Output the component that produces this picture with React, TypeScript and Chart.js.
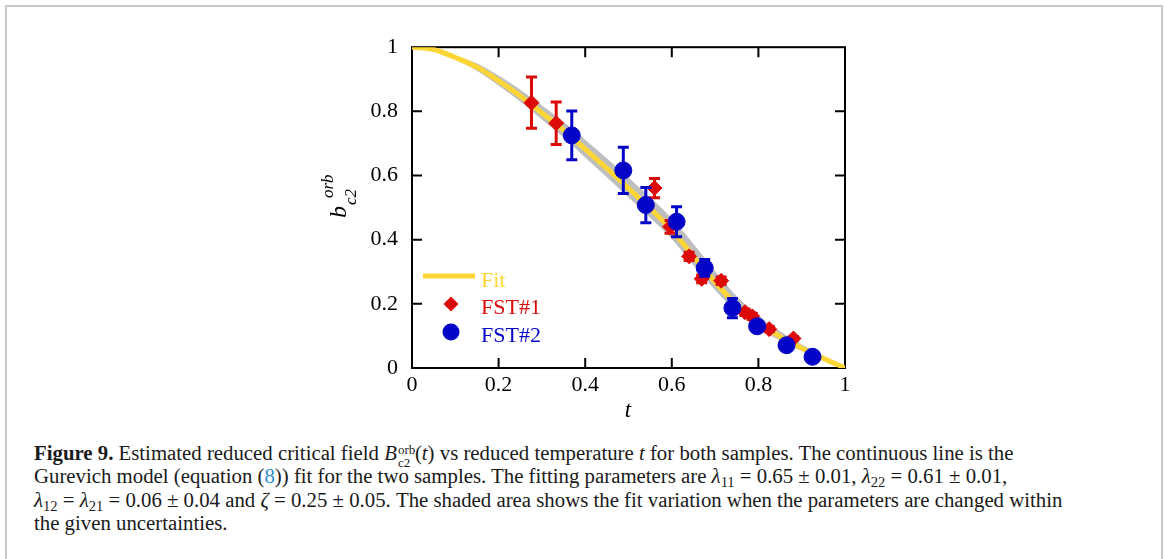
import React, { useEffect, useRef } from "react";
import { Chart, registerables } from "chart.js";

Chart.register(...registerables);

// Fit curve
const tFit = [0, 0.05, 0.1, 0.15, 0.2, 0.25, 0.3, 0.35, 0.4, 0.45, 0.5, 0.55, 0.6, 0.65, 0.7, 0.75, 0.8, 0.85, 0.9, 0.95, 1.0];
const bFit = [1.0, 0.993, 0.968, 0.938, 0.895, 0.848, 0.795, 0.742, 0.682, 0.622, 0.56, 0.497, 0.43, 0.348, 0.268, 0.195, 0.14, 0.098, 0.062, 0.03, 0.0];

// Shaded band (fit variation)
const tBand = [0.1, 0.15, 0.2, 0.25, 0.3, 0.35, 0.4, 0.45, 0.5, 0.55, 0.6, 0.65, 0.7, 0.75, 0.8, 0.85, 0.9, 0.95];
const bandUpper = [0.972, 0.948, 0.91, 0.866, 0.817, 0.766, 0.71, 0.652, 0.592, 0.53, 0.465, 0.385, 0.3, 0.222, 0.162, 0.113, 0.072, 0.035];
const bandLower = [0.964, 0.928, 0.882, 0.832, 0.776, 0.72, 0.658, 0.596, 0.533, 0.47, 0.404, 0.322, 0.245, 0.176, 0.124, 0.087, 0.054, 0.025];

// FST#1 (red diamonds)
const t1 = [0.276, 0.333, 0.56, 0.596, 0.64, 0.669, 0.714, 0.769, 0.786, 0.825, 0.881];
const b1 = [0.827, 0.763, 0.561, 0.44, 0.348, 0.278, 0.272, 0.174, 0.161, 0.121, 0.092];
const e1 = [0.08, 0.066, 0.03, 0.02, 0.013, 0.012, 0.012, 0.01, 0.01, 0.008, 0.006];

// FST#2 (blue circles)
const t2 = [0.369, 0.488, 0.54, 0.611, 0.676, 0.74, 0.797, 0.865, 0.925];
const b2 = [0.725, 0.616, 0.508, 0.456, 0.312, 0.187, 0.13, 0.071, 0.035];
const e2 = [0.076, 0.072, 0.055, 0.047, 0.026, 0.03, 0.01, 0.008, 0.005];

const tickValues = [0.2, 0.4, 0.6, 0.8];
const legendLabels = ["Fit", "FST#1", "FST#2"];

const YELLOW = "#FDD535";
const RED = "#DD0A0A";
const BLUE = "#0505C8";
const GRAY = "#BEBEBE";
const SERIF = "'Liberation Serif', 'DejaVu Serif', serif";

const CANVAS_LEFT = 300;
const CANVAS_TOP = 28;

const framePlugin = {
  id: "frame",
  beforeDatasetsDraw(chart: any) {
    const { ctx, chartArea } = chart;
    const { left, top, right, bottom } = chartArea;
    const xs = chart.scales.x;
    const ys = chart.scales.y;
    ctx.save();
    ctx.strokeStyle = "#000";
    ctx.lineWidth = 2;
    ctx.strokeRect(left, top, right - left, bottom - top);
    ctx.beginPath();
    tickValues.forEach((v) => {
      const x = xs.getPixelForValue(v);
      ctx.moveTo(x, bottom);
      ctx.lineTo(x, bottom - 10);
      ctx.moveTo(x, top);
      ctx.lineTo(x, top + 10);
      const y = ys.getPixelForValue(v);
      ctx.moveTo(left, y);
      ctx.lineTo(left + 10, y);
      ctx.moveTo(right, y);
      ctx.lineTo(right - 10, y);
    });
    ctx.stroke();
    ctx.restore();
  },
};

const errorBarPlugin = {
  id: "errbars",
  afterDatasetDraw(chart: any, args: any) {
    const ds = chart.data.datasets[args.index];
    if (!ds.errors) return;
    const { ctx } = chart;
    const xs = chart.scales.x;
    const ys = chart.scales.y;
    ctx.save();
    ctx.strokeStyle = ds.backgroundColor;
    ctx.lineWidth = 3;
    ctx.beginPath();
    ds.data.forEach((p: any, i: number) => {
      const e = ds.errors[i];
      const x = xs.getPixelForValue(p.x);
      const yTop = ys.getPixelForValue(p.y + e);
      const yBot = ys.getPixelForValue(p.y - e);
      ctx.moveTo(x, yTop);
      ctx.lineTo(x, yBot);
      ctx.moveTo(x - 5.5, yTop);
      ctx.lineTo(x + 5.5, yTop);
      ctx.moveTo(x - 5.5, yBot);
      ctx.lineTo(x + 5.5, yBot);
    });
    ctx.stroke();
    ctx.restore();
  },
};

const labelPlugin = {
  id: "labels",
  afterDraw(chart: any) {
    const { ctx } = chart;
    const ox = CANVAS_LEFT;
    const oy = CANVAS_TOP;
    ctx.save();
    // legend
    ctx.strokeStyle = YELLOW;
    ctx.lineWidth = 5;
    ctx.beginPath();
    ctx.moveTo(423 - ox, 276 - oy);
    ctx.lineTo(475 - ox, 276 - oy);
    ctx.stroke();
    // diamond
    ctx.fillStyle = RED;
    const dx = 451 - ox, dy = 304 - oy, r = 7.5;
    ctx.beginPath();
    ctx.moveTo(dx, dy - r);
    ctx.lineTo(dx + r, dy);
    ctx.lineTo(dx, dy + r);
    ctx.lineTo(dx - r, dy);
    ctx.closePath();
    ctx.fill();
    // circle
    ctx.fillStyle = BLUE;
    ctx.beginPath();
    ctx.arc(451 - ox, 332 - oy, 8.5, 0, Math.PI * 2);
    ctx.fill();
    ctx.font = `22px ${SERIF}`;
    ctx.textBaseline = "alphabetic";
    ctx.textAlign = "left";
    const colors = [YELLOW, RED, BLUE];
    const baselines = [287, 314, 342];
    legendLabels.forEach((l, i) => {
      ctx.fillStyle = colors[i];
      ctx.fillText(l, 481 - ox, baselines[i] - oy);
    });
    // x title
    ctx.fillStyle = "#000";
    ctx.font = `italic 23px ${SERIF}`;
    ctx.textAlign = "center";
    ctx.fillText("t", 628 - ox, 417 - oy);
    // y title (rotated)
    ctx.translate(346 - ox, 207 - oy);
    ctx.rotate(-Math.PI / 2);
    ctx.textAlign = "left";
    ctx.font = `italic 24px ${SERIF}`;
    ctx.fillText("b", -11, 0);
    ctx.font = `italic 17px ${SERIF}`;
    ctx.fillText("orb", 9, -13);
    ctx.fillText("c2", 2, 10);
    ctx.restore();
  },
};

function ChartBox() {
  const ref = useRef<HTMLCanvasElement | null>(null);
  useEffect(() => {
    if (!ref.current) return;
    const chart = new Chart(ref.current, {
      type: "scatter",
      data: {
        datasets: [
          {
            type: "line",
            label: "bandU",
            data: tBand.map((t, i) => ({ x: t, y: bandUpper[i] })),
            borderColor: GRAY,
            borderWidth: 1,
            backgroundColor: GRAY,
            pointRadius: 0,
            fill: "+1",
            cubicInterpolationMode: "monotone",
            order: 5,
          } as any,
          {
            type: "line",
            label: "bandL",
            data: tBand.map((t, i) => ({ x: t, y: bandLower[i] })),
            borderColor: GRAY,
            borderWidth: 1,
            backgroundColor: GRAY,
            pointRadius: 0,
            fill: false,
            cubicInterpolationMode: "monotone",
            order: 4,
          } as any,
          {
            type: "line",
            label: "Fit",
            data: tFit.map((t, i) => ({ x: t, y: bFit[i] })),
            borderColor: YELLOW,
            borderWidth: 5,
            pointRadius: 0,
            fill: false,
            cubicInterpolationMode: "monotone",
            order: 3,
          } as any,
          {
            label: "FST#1",
            data: t1.map((t, i) => ({ x: t, y: b1[i] })),
            errors: e1,
            backgroundColor: RED,
            borderColor: RED,
            borderWidth: 1,
            pointStyle: "rectRot",
            pointRadius: 7.5,
            order: 2,
          } as any,
          {
            label: "FST#2",
            data: t2.map((t, i) => ({ x: t, y: b2[i] })),
            errors: e2,
            backgroundColor: BLUE,
            borderColor: BLUE,
            borderWidth: 1,
            pointStyle: "circle",
            pointRadius: 8.5,
            order: 1,
          } as any,
        ],
      },
      options: {
        animation: false,
        responsive: false,
        layout: { padding: { left: 0, right: 55, top: 6, bottom: 0 } },
        plugins: { legend: { display: false }, tooltip: { enabled: false } },
        scales: {
          x: {
            type: "linear",
            min: 0,
            max: 1,
            grid: { display: false },
            border: { display: false },
            ticks: {
              stepSize: 0.2,
              color: "#000",
              font: { family: SERIF, size: 22 },
              padding: -4,
              callback: (v: any) => String(Math.round(Number(v) * 10) / 10),
            },
            afterFit: (s: any) => {
              s.height = 60;
            },
          },
          y: {
            type: "linear",
            min: 0,
            max: 1,
            grid: { display: false },
            border: { display: false },
            ticks: {
              stepSize: 0.2,
              color: "#000",
              font: { family: SERIF, size: 22 },
              padding: 6,
              callback: (v: any) => String(Math.round(Number(v) * 10) / 10),
            },
            afterFit: (s: any) => {
              s.width = 112;
            },
          },
        },
      },
      plugins: [framePlugin, errorBarPlugin, labelPlugin],
    } as any);
    return () => chart.destroy();
  }, []);
  return (
    <canvas
      ref={ref}
      width={600}
      height={400}
      style={{ position: "absolute", left: CANVAS_LEFT, top: CANVAS_TOP, width: 600, height: 400 }}
    />
  );
}

const sub: React.CSSProperties = { fontSize: "0.7em", verticalAlign: "-0.25em", lineHeight: 0 };

export default function App() {
  return (
    <div style={{ position: "fixed", inset: 0, overflow: "hidden", background: "#fff" }}>
      <div
        style={{
          position: "absolute",
          left: 5,
          top: 5,
          width: 1158,
          height: 620,
          boxSizing: "border-box",
          border: "2px solid #c8c8c8",
        }}
      />
      <ChartBox />
      <div
        style={{
          position: "absolute",
          left: 34,
          top: 441,
          fontFamily: SERIF,
          fontSize: 20.8,
          lineHeight: "23.3px",
          color: "#1a1a1a",
          whiteSpace: "nowrap",
        }}
      >
        <div>
          <b>Figure 9.</b> Estimated reduced critical field <i>B</i>
          <span style={{ position: "relative", display: "inline-block", width: 18, height: 0 }}>
            <span style={{ position: "absolute", left: 1, top: -17, fontSize: 13, lineHeight: "13px" }}>orb</span>
            <span style={{ position: "absolute", left: 1, top: -4, fontSize: 13, lineHeight: "13px" }}>c2</span>
          </span>
          (<i>t</i>) vs reduced temperature <i>t</i> for both samples. The continuous line is the
        </div>
        <div>
          Gurevich model (equation (<span style={{ color: "#2C8FD0" }}>8</span>)) fit for the two samples. The fitting
          parameters are <i>λ</i>
          <span style={sub}>11</span> = 0.65 ± 0.01, <i>λ</i>
          <span style={sub}>22</span> = 0.61 ± 0.01,
        </div>
        <div>
          <i>λ</i>
          <span style={sub}>12</span> = <i>λ</i>
          <span style={sub}>21</span> = 0.06 ± 0.04 and <i>ζ</i> = 0.25 ± 0.05. The shaded area shows the fit
          variation when the parameters are changed within
        </div>
        <div>the given uncertainties.</div>
      </div>
    </div>
  );
}
